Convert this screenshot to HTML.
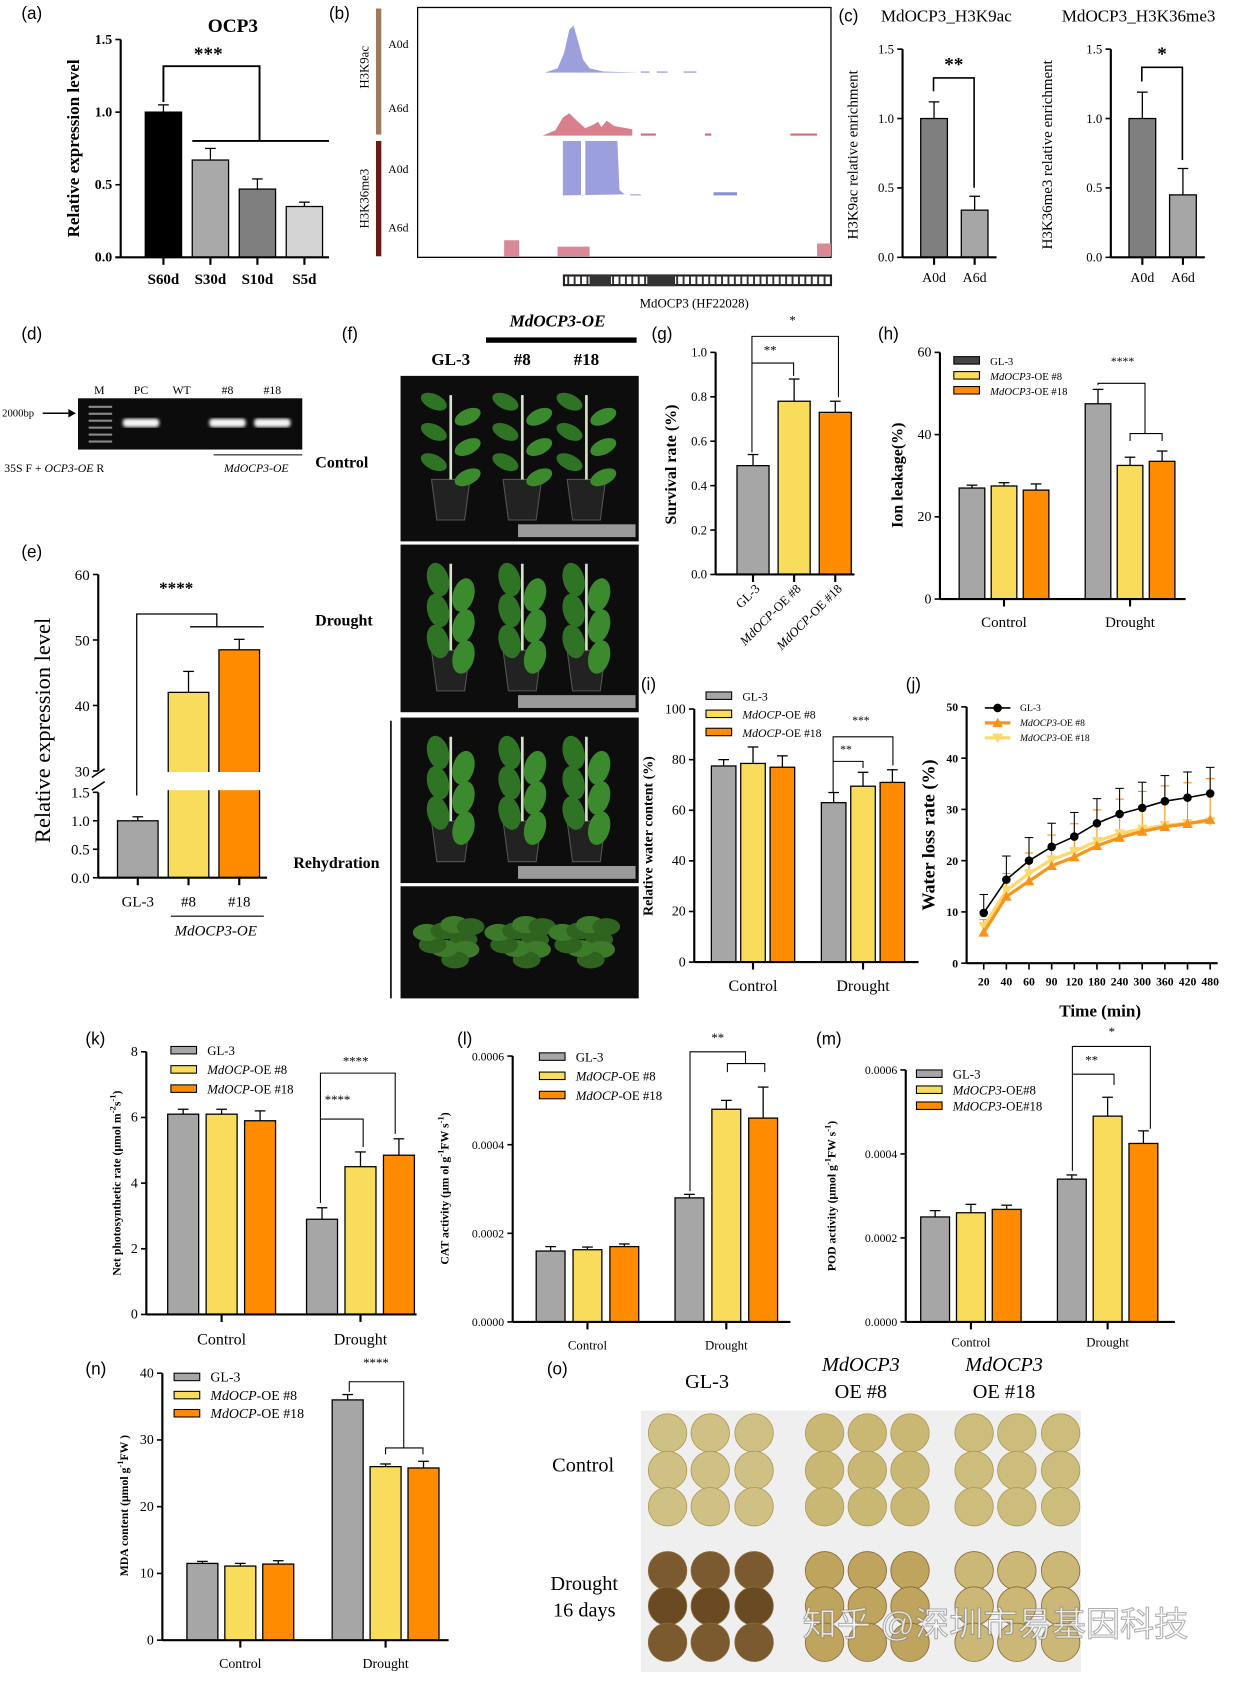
<!DOCTYPE html>
<html><head><meta charset="utf-8">
<style>
html,body{margin:0;padding:0;background:#fff;}
svg{display:block;}
</style></head>
<body>
<svg id="fig" xmlns="http://www.w3.org/2000/svg" width="1239" height="1685" viewBox="0 0 1160 1578" preserveAspectRatio="none">
<defs>
<filter id="blur1"><feGaussianBlur stdDeviation="1.5"/></filter>
</defs>
</svg>
<script>
// ---------- data ----------
const a_cats=['S60d','S30d','S10d','S5d'];
const a_vals=[1.0,0.67,0.47,0.35];
const a_errs=[0.05,0.08,0.07,0.03];
const a_ticks=[0,0.5,1.0,1.5];
const a_tickLabels=['0.0','0.5','1.0','1.5'];

const c1_cats=['A0d','A6d'];
const c1_vals=[1.0,0.34];
const c1_errs=[0.12,0.1];
const c2_vals=[1.0,0.45];
const c2_errs=[0.19,0.19];
const c_ticks=[0,0.5,1.0,1.5];
const c_tickLabels=['0.0','0.5','1.0','1.5'];

const e_cats=['GL-3','#8','#18'];
const e_vals=[1.0,42,48.5];
const e_errs=[0.07,3.2,1.6];
const e_upperTicks=[30,40,50,60];
const e_lowerTicks=[0,0.5,1.0,1.5];
const e_lowerLabels=['0.0','0.5','1.0','1.5'];

const g_cats=['GL-3','MdOCP-OE #8','MdOCP-OE #18'];
const g_vals=[0.49,0.78,0.73];
const g_errs=[0.05,0.1,0.05];
const g_ticks=[0,0.2,0.4,0.6,0.8,1.0];
const g_tickLabels=['0.0','0.2','0.4','0.6','0.8','1.0'];

const groups=['Control','Drought'];
const h_gl3=[27,47.5]; const h_oe8=[27.5,32.5]; const h_oe18=[26.5,33.5];
const h_err_gl3=[0.7,3.5]; const h_err_oe8=[0.8,2]; const h_err_oe18=[1.5,2.5];
const h_ticks=[0,20,40,60];

const i_gl3=[77.5,63]; const i_oe8=[78.5,69.5]; const i_oe18=[77,71];
const i_err_gl3=[2.5,4]; const i_err_oe8=[6.5,5.5]; const i_err_oe18=[4.5,5];
const i_ticks=[0,20,40,60,80,100];

const j_times=['20','40','60','90','120','180','240','300','360','420','480'];
const j_gl3=[9.8,16.3,20,22.7,24.7,27.3,29.1,30.3,31.6,32.3,33.1];
const j_oe8=[6.0,13,16,19,20.7,22.9,24.5,25.7,26.6,27.2,28.0];
const j_oe18=[7.2,14.2,17.5,20.2,21.8,23.8,25.3,26.2,26.9,27.3,27.6];
const j_err_gl3=[3.6,4.6,4.5,4.6,4.7,4.8,5.0,5.0,5.0,5.0,5.1];
const j_err_oe8=[2.5,4.5,5.5,6,6.5,7,7.5,7.8,8,8,8];
const j_ticks=[0,10,20,30,40,50];

const k_gl3=[6.1,2.9]; const k_oe8=[6.1,4.5]; const k_oe18=[5.9,4.85];
const k_err_gl3=[0.15,0.35]; const k_err_oe8=[0.15,0.45]; const k_err_oe18=[0.3,0.5];
const k_ticks=[0,2,4,6,8];

const l_gl3=[0.00016,0.00028]; const l_oe8=[0.000163,0.00048]; const l_oe18=[0.00017,0.00046];
const l_err_gl3=[0.00001,0.000008]; const l_err_oe8=[0.000006,0.00002]; const l_err_oe18=[0.000006,0.00007];
const lm_ticks=[0,0.0002,0.0004,0.0006];
const lm_tickLabels=['0.0000','0.0002','0.0004','0.0006'];

const m_gl3=[0.00025,0.00034]; const m_oe8=[0.00026,0.00049]; const m_oe18=[0.000268,0.000425];
const m_err_gl3=[0.000015,0.00001]; const m_err_oe8=[0.00002,0.000045]; const m_err_oe18=[0.00001,0.00003];

const n_gl3=[11.5,36]; const n_oe8=[11.1,26]; const n_oe18=[11.4,25.8];
const n_err_gl3=[0.3,0.8]; const n_err_oe8=[0.4,0.4]; const n_err_oe18=[0.5,1.0];
const n_ticks=[0,10,20,30,40];

// ---------- helpers ----------
const NS='http://www.w3.org/2000/svg';
const svg=document.getElementById('fig');
const GRAY='#a6a6a6', YEL='#f9dc5c', ORG='#ff8c00';
const SERIF='"Liberation Serif", serif';
function mk(tag,attrs,name,parent){
  const n=document.createElementNS(NS,tag);
  for(const k in attrs) n.setAttribute(k,attrs[k]);
  
  
  (parent||svg).appendChild(n);
  return n;
}
function tx(x,y,s,name,o){
  o=o||{};
  const at={x:x,y:y,'font-family':o.ff||SERIF,'font-size':o.fs||12,'text-anchor':o.a||'middle','font-weight':o.fw||'normal','font-style':o.fi||'normal',fill:o.c||'#000'};
  if(o.rot) at.transform='rotate('+o.rot+' '+x+' '+y+')';
  const t=mk('text',at,name);
  t.innerHTML=s;
  return t;
}
function ln(x1,y1,x2,y2,name,w,c){return mk('line',{x1:x1,y1:y1,x2:x2,y2:y2,stroke:c||'#000','stroke-width':w||1.5},name);}
function pl(pts,name,w){return mk('polyline',{points:pts.map(p=>p.join(',')).join(' '),fill:'none',stroke:'#000','stroke-width':w||1.2},name);}
function yScale(yb,yt,vmax){return v=>yb-v/vmax*(yb-yt);}
function yAxis(x,ys,ticks,labels,name,fs,fw){
  ln(x,ys(0),x,ys(ticks[ticks.length-1]),name+'-y-axis',2);
  ticks.forEach((v,i)=>{const y=ys(v);ln(x-5,y,x,y,name+'-y-tick',1.5);
    tx(x-8,y+4,labels?labels[i]:String(v),name+'-y-tick-label',{a:'end',fs:fs||12,fw:fw||'normal'});});
}
function bar(x,w,ys,v,err,fill,name){
  const y=ys(v), yb=ys(0), ye=ys(v+err);
  ln(x+w/2,y,x+w/2,ye,name+'-error',1.2);
  ln(x+w/2-5,ye,x+w/2+5,ye,name+'-error-cap',1.2);
  mk('rect',{x:x,y:y,width:w,height:yb-y,fill:fill,stroke:'#000','stroke-width':1.2},name);
  return y;
}
function legend(x,y,dy,labels,colors,name,fs){
  labels.forEach((l,i)=>{
    mk('rect',{x:x,y:y+i*dy-6,width:24,height:7,fill:colors[i],stroke:'#000','stroke-width':1},name+'-swatch');
    tx(x+34,y+i*dy+2,l,name+'-label',{a:'start',fs:fs||12});
  });
}
function grouped(name,ys,x0,bw,bstep,gstep,series,errs,colors,axisX,axisEnd,labY,labFs){
  const tops=[];
  series.forEach((s,si)=>{s.forEach((v,gi)=>{
    const x=x0+gi*gstep+si*bstep;
    tops.push([x+bw/2,bar(x,bw,ys,v,errs[si][gi],colors[si],name+'-bar-'+groups[gi].toLowerCase()+'-'+si)]);
  });});
  ln(axisX,ys(0),axisEnd,ys(0),name+'-x-axis',2);
  groups.forEach((g,gi)=>{const cx=x0+gi*gstep+bstep+bw/2;
    ln(cx,ys(0),cx,ys(0)+7,name+'-x-tick',2);
    tx(cx,labY,g,name+'-x-label',{fs:labFs||15});});
  return tops;
}
function panelLabel(x,y,s){tx(x,y,s,'panel-label-'+s.replace(/[()]/g,''),{ff:'"Liberation Sans", sans-serif',fs:16,a:'start'});}

// ---------- (a) ----------
panelLabel(20,18,'(a)');
tx(218,30,'OCP3','a-title',{fs:18,fw:'bold'});
(function(){
  const ys=yScale(241,37,1.5);
  yAxis(113,ys,a_ticks,a_tickLabels,'a',13,'bold');
  tx(74,139,'Relative expression level','a-y-title',{fs:16,fw:'bold',rot:-90});
  const cols=['#000','#a9a9aa','#7f7f7f','#d4d4d4'];
  const tops=[];
  a_cats.forEach((c,i)=>{const x=136+i*44;
    tops.push(bar(x,34,ys,a_vals[i],a_errs[i],cols[i],'a-bar-'+c));
    ln(x+17,241,x+17,248,'a-x-tick',2);
    tx(x+17,266,c,'a-x-label',{fs:14,fw:'bold'});});
  ln(108,241,308,241,'a-x-axis',2);
  pl([[153,ys(1.07)],[153,62],[243,62],[243,132]],'a-bracket',1.8);
  ln(180,132,308,132,'a-bracket-base',1.8);
  tx(195,56,'***','a-significance',{fs:18,fw:'bold'});
})();

// ---------- (b) ----------
panelLabel(308,18,'(b)');
mk('rect',{x:391,y:7,width:387,height:234,fill:'none',stroke:'#000','stroke-width':1.2},'b-track-frame');
mk('rect',{x:352,y:8,width:5,height:118,fill:'#a0785a'},'b-h3k9ac-bar');
mk('rect',{x:352,y:132,width:5,height:108,fill:'#6b1a1a'},'b-h3k36me3-bar');
tx(345,63,'H3K9ac','b-h3k9ac-label',{fs:12,rot:-90});
tx(345,186,'H3K36me3','b-h3k36me3-label',{fs:12,rot:-90});
[['A0d',45],['A6d',105],['A0d',162],['A6d',217]].forEach(p=>tx(373,p[1],p[0],'b-sample-label',{fs:11}));
mk('path',{d:'M510,68 L522,64 L528,50 L533,28 L537,24 L541,38 L546,56 L552,64 L565,67 L600,68 L510,68 Z',fill:'#8a8fd6',opacity:0.85},'b-track-a0d-h3k9ac');
mk('path',{d:'M600,68 h8 v-1 h-8z M615,68 h10 v-1 h-10z M640,68 h12 v-1 h-12z',fill:'#8a8fd6'},'b-track-a0d-h3k9ac-tail');
mk('path',{d:'M508,127 L520,122 L527,110 L533,106 L540,113 L548,120 L555,117 L560,114 L563,119 L568,113 L575,118 L592,121 L592,127 Z',fill:'#d46a78',opacity:0.85},'b-track-a6d-h3k9ac');
mk('path',{d:'M600,127 h14 v-2 h-14z M660,127 h6 v-2 h-6z M740,127 h25 v-2 h-25z',fill:'#d46a78'},'b-track-a6d-tail');
mk('path',{d:'M522,183 L527,183 L527,132 L544,132 L544,183 L548,183 L548,132 L578,132 L580,178 L585,182 L530,183 Z',fill:'#8a8fd6',opacity:0.85},'b-track-a0d-h3k36me3');
mk('path',{d:'M668,183 h22 v-3 h-22z M590,183 h10 v-1 h-10z',fill:'#8a8fd6'},'b-track-a0d-h3k36me3-tail');
mk('path',{d:'M472,240 v-15 h14 v15 z M522,240 v-9 h30 v9 z M765,240 v-12 h13 v12z',fill:'#d88896'},'b-track-a6d-h3k36me3');
mk('rect',{x:528,y:258,width:250,height:9,fill:'#fff',stroke:'#222','stroke-width':2},'b-gene-model');
for(let x=532;x<776;x+=6) ln(x,259,x,266,'b-gene-exon',1.8,'#333');
mk('rect',{x:552,y:257,width:20,height:11,fill:'#333'},'b-gene-exon-block');
mk('rect',{x:606,y:257,width:26,height:11,fill:'#333'},'b-gene-exon-block');
tx(650,288,'MdOCP3 (HF22028)','b-gene-label',{fs:12});

// ---------- (c) ----------
panelLabel(785,20,'(c)');
tx(886,20,'MdOCP3_H3K9ac','c-title-h3k9ac',{fs:16});
tx(1066,20,'MdOCP3_H3K36me3','c-title-h3k36me3',{fs:16});
(function(){
  const ys=yScale(241,46,1.5);
  [[845,c1_vals,c1_errs,'c1','H3K9ac relative enrichment',803,'**',66],[1040,c2_vals,c2_errs,'c2','H3K36me3 relative enrichment',985,'*',56]].forEach(cfg=>{
    const [ax,vals,errs,nm,title,tx0,star,sy]=cfg;
    yAxis(ax,ys,c_ticks,c_tickLabels,nm,12);
    tx(tx0,145,title,nm+'-y-title',{fs:14,rot:-90});
    const cols=['#7f7f7f','#a6a6a6'];
    c1_cats.forEach((c,i)=>{const x=ax+17+i*38;
      bar(x,25,ys,vals[i],errs[i],cols[i],nm+'-bar-'+c);
      ln(x+12.5,241,x+12.5,248,nm+'-x-tick',2);
      tx(x+12.5,264,c,nm+'-x-label',{fs:13});});
    ln(ax,241,ax+88,241,nm+'-x-axis',2);
    pl([[ax+29,ys(vals[0]+errs[0])-10],[ax+29,sy+7],[ax+67,sy+7],[ax+67,ys(vals[1]+errs[1])-8]],nm+'-bracket',1.5);
    tx(ax+48,sy,star,nm+'-significance',{fs:18,fw:'bold'});
  });
})();

// ---------- (d) ----------
panelLabel(20,318,'(d)');
mk('rect',{x:73,y:373,width:210,height:48,fill:'#0c0c0c'},'d-gel');
[['M',93],['PC',132],['WT',170],['#8',213],['#18',255]].forEach(p=>tx(p[1],369,p[0],'d-lane-label',{fs:11}));
for(let k=0;k<6;k++) mk('rect',{x:83,y:380+k*6.5,width:22,height:2,fill:'#888'},'d-ladder-band');
[132,213,255].forEach(x=>mk('rect',{x:x-17,y:392,width:34,height:8,rx:3,fill:'#f4f4f4',filter:'url(#blur1)'},'d-band'));
tx(2,390,'2000bp','d-size-label',{fs:10,a:'start'});
ln(40,387,64,387,'d-arrow',1.5);
mk('path',{d:'M64,383 L71,387 L64,391 Z',fill:'#000'},'d-arrowhead');
tx(4,442,'35S F + <tspan font-style="italic">OCP3-OE</tspan> R','d-primer-label',{fs:11,a:'start'});
ln(200,426,283,426,'d-group-line',1);
tx(240,442,'MdOCP3-OE','d-group-label',{fs:11,fi:'italic'});

// ---------- (e) ----------
panelLabel(20,522,'(e)');
(function(){
  const up=yScale(722+184,538,60); // upper segment
  const ysU=v=>722-(v-30)/30*184;
  const ysL=yScale(822,742,1.5);
  const ys=v=>v<=1.5?ysL(v):ysU(v);
  ln(92,822,92,742,'e-y-axis-lower',2); ln(92,722,92,538,'e-y-axis-upper',2);
  e_upperTicks.forEach(v=>{ln(87,ysU(v),92,ysU(v),'e-y-tick',1.5);tx(84,ysU(v)+5,String(v),'e-y-tick-label',{a:'end',fs:14});});
  e_lowerTicks.forEach((v,i)=>{ln(87,ysL(v),92,ysL(v),'e-y-tick',1.5);tx(84,ysL(v)+5,e_lowerLabels[i],'e-y-tick-label',{a:'end',fs:14});});
  ln(86,728,98,720,'e-axis-break',1.5); ln(86,740,98,732,'e-axis-break',1.5);
  tx(47,684,'Relative expression level','e-y-title',{fs:21,rot:-90});
  const cols=[GRAY,YEL,ORG];
  e_cats.forEach((c,i)=>{const x=110+i*47.5;
    bar(x,38,ys,e_vals[i],e_errs[i]*(i? 184/30:80/1.5)/ (i?184/30:80/1.5),cols[i],'e-bar-'+c);
    ln(x+19,822,x+19,829,'e-x-tick',2);
    tx(x+19,849,c,'e-x-label',{fs:14});});
  // fix error bars for broken axis
  ln(92,822,250,822,'e-x-axis',2);
  mk('rect',{x:150,y:723,width:100,height:17,fill:'#fff'},'e-break-gap');
  pl([[128,745],[128,575],[203,575],[203,587]],'e-bracket',1.2);
  ln(178,587,247,587,'e-bracket-base',1.2);
  tx(165,556,'****','e-significance',{fs:16,fw:'bold'});
  ln(160,858,247,858,'e-group-line',1);
  tx(202,876,'MdOCP3-OE','e-group-label',{fs:14,fi:'italic'});
})();

// ---------- (f) photos ----------
panelLabel(320,318,'(f)');
tx(522,306,'MdOCP3-OE','f-group-label',{fs:16,fw:'bold',fi:'italic'});
mk('rect',{x:455,y:316,width:141,height:5,fill:'#000'},'f-group-bar');
[['GL-3',422],['#8',489],['#18',549]].forEach(p=>tx(p[1],342,p[0],'f-line-label',{fs:16,fw:'bold'}));
tx(320,438,'Control','f-control-label',{fs:15,fw:'bold'});
tx(322,586,'Drought','f-drought-label',{fs:15,fw:'bold'});
tx(315,813,'Rehydration','f-rehydration-label',{fs:15,fw:'bold'});
ln(366,675,366,935,'f-rehydration-line',1.5);
function plantPhoto(y,h,mode,name){
  mk('rect',{x:375,y:y,width:223,height:h,fill:'#0d0d0d'},name);
  if(mode!=='top') mk('rect',{x:485,y:y+h-16,width:110,height:12,fill:'#9a9a9a'},name+'-ruler');
  [422,489,549].forEach((cx,i)=>{
    if(mode==='top'){
      for(let k=0;k<9;k++){const a=k*0.7,r=12+(k%3)*6;
        mk('ellipse',{cx:cx+Math.cos(a)*r,cy:y+50+Math.sin(a)*r*0.8,rx:13,ry:8,fill:k%2?'#3d7a2a':'#2e6420'},name+'-leaf');}
      return;
    }
    const pb=y+h-20;
    mk('path',{d:`M${cx-18},${pb-38} L${cx+18},${pb-38} L${cx+13},${pb} L${cx-13},${pb} Z`,fill:'#222',stroke:'#555','stroke-width':1},name+'-pot');
    ln(cx,pb-38,cx,y+18,name+'-stem',2.5,'#d8e0c8');
    const droop=mode==='drought'||mode==='rehyd';
    for(let k=0;k<6;k++){const ly=y+25+k*((h-70)/6), side=k%2?1:-1;
      mk('ellipse',{cx:cx+side*(droop?14:16),cy:ly+(droop?8:0),rx:droop?10:13,ry:droop?16:7,fill:k%2?'#3c8a2e':'#2f7424',transform:`rotate(${side*(droop?15:-25)} ${cx+side*14} ${ly})`},name+'-leaf');}
  });
}
plantPhoto(352,155,'control','f-photo-control');
plantPhoto(510,157,'drought','f-photo-drought');
plantPhoto(672,155,'rehyd','f-photo-rehydration');
plantPhoto(830,105,'top','f-photo-rehydration-top');

// ---------- (g) ----------
panelLabel(610,318,'(g)');
(function(){
  const ys=yScale(538,330,1.0);
  yAxis(670,ys,g_ticks,g_tickLabels,'g',12);
  tx(633,435,'Survival rate (%)','g-y-title',{fs:15,fw:'bold',rot:-90});
  const cols=[GRAY,YEL,ORG];
  g_cats.forEach((c,i)=>{const x=690+i*38.5;
    bar(x,30,ys,g_vals[i],g_errs[i],cols[i],'g-bar-'+i);
    ln(x+15,538,x+15,545,'g-x-tick',2);
    tx(x+22,552,c.replace('MdOCP','<tspan font-style="italic">MdOCP</tspan>'),'g-x-label',{fs:12,a:'end',rot:-45});});
  ln(670,538,800,538,'g-x-axis',2);
  pl([[704,ys(0.55)],[704,340],[743,340],[743,352]],'g-bracket-8',1);
  tx(721,332,'**','g-significance-8',{fs:12});
  pl([[704,340],[704,315],[785,315],[785,372]],'g-bracket-18',1);
  tx(742,304,'*','g-significance-18',{fs:12});
})();

// ---------- (h) ----------
panelLabel(822,318,'(h)');
(function(){
  const ys=yScale(561,330,60);
  yAxis(880,ys,h_ticks,null,'h',13);
  tx(845,445,'Ion leakage(%)','h-y-title',{fs:15,fw:'bold',rot:-90});
  grouped('h',ys,898,24,30,118,[h_gl3,h_oe8,h_oe18],[h_err_gl3,h_err_oe8,h_err_oe18],[GRAY,YEL,ORG],880,1110,587,14);
  legend(893,340,14,['GL-3','<tspan font-style="italic">MdOCP3</tspan>-OE #8','<tspan font-style="italic">MdOCP3</tspan>-OE #18'],['#444',YEL,ORG],'h-legend',10);
  tx(1051,342,'****','h-significance',{fs:11});
  pl([[1028,ys(51)-4],[1028,359],[1072,359],[1072,406]],'h-bracket',1);
  pl([[1058,413],[1058,406],[1088,406],[1088,413]],'h-bracket-base',1);
})();

// ---------- (i) ----------
panelLabel(600,646,'(i)');
(function(){
  const ys=yScale(901,664,100);
  yAxis(650,ys,i_ticks,null,'i',13);
  tx(611,783,'Relative water content (%)','i-y-title',{fs:13,fw:'bold',rot:-90});
  grouped('i',ys,666,23,27.5,103,[i_gl3,i_oe8,i_oe18],[i_err_gl3,i_err_oe8,i_err_oe18],[GRAY,YEL,ORG],650,860,928,15);
  legend(661,654,17,['GL-3','<tspan font-style="italic">MdOCP</tspan>-OE #8','<tspan font-style="italic">MdOCP</tspan>-OE #18'],[GRAY,YEL,ORG],'i-legend',11);
  tx(806,678,'***','i-significance-18',{fs:11});
  tx(792,705,'**','i-significance-8',{fs:11});
  pl([[780,ys(67)],[780,690],[836,690],[836,ys(76)-4]],'i-bracket-18',1);
  pl([[780,713],[808,713],[808,ys(75)-4]],'i-bracket-8',1);
})();

// ---------- (j) ----------
panelLabel(848,646,'(j)');
(function(){
  const ys=yScale(902,662,50);
  yAxis(905,ys,j_ticks,null,'j',11,'bold');
  tx(875,782,'Water loss rate (%)','j-y-title',{fs:17,fw:'bold',rot:-90});
  const xs=i=>921+i*21.2;
  ln(905,902,1140,902,'j-x-axis',2);
  j_times.forEach((t,i)=>{ln(xs(i),902,xs(i),908,'j-x-tick',1.5);tx(xs(i),923,t,'j-x-label',{fs:11,fw:'bold'});});
  tx(1030,952,'Time (min)','j-x-title',{fs:16,fw:'bold'});
  // error bars
  j_oe8.forEach((v,i)=>{ln(xs(i),ys(v),xs(i),ys(v+j_err_oe8[i]),'j-error-oe8',1,ORG);ln(xs(i)-4,ys(v+j_err_oe8[i]),xs(i)+4,ys(v+j_err_oe8[i]),'j-error-cap-oe8',1,ORG);});
  j_gl3.forEach((v,i)=>{ln(xs(i),ys(v),xs(i),ys(v+j_err_gl3[i]),'j-error-gl3',1);ln(xs(i)-4,ys(v+j_err_gl3[i]),xs(i)+4,ys(v+j_err_gl3[i]),'j-error-cap-gl3',1);});
  mk('polyline',{points:j_oe18.map((v,i)=>xs(i)+','+ys(v)).join(' '),fill:'none',stroke:'#fcd96a','stroke-width':3},'j-line-oe18');
  j_oe18.forEach((v,i)=>mk('path',{d:`M${xs(i)-5},${ys(v)-4} L${xs(i)+5},${ys(v)-4} L${xs(i)},${ys(v)+5} Z`,fill:'#fcd96a'},'j-point-oe18'));
  mk('polyline',{points:j_oe8.map((v,i)=>xs(i)+','+ys(v)).join(' '),fill:'none',stroke:'#f7941d','stroke-width':3},'j-line-oe8');
  j_oe8.forEach((v,i)=>mk('path',{d:`M${xs(i)-5},${ys(v)+4} L${xs(i)+5},${ys(v)+4} L${xs(i)},${ys(v)-5} Z`,fill:'#f7941d'},'j-point-oe8'));
  mk('polyline',{points:j_gl3.map((v,i)=>xs(i)+','+ys(v)).join(' '),fill:'none',stroke:'#000','stroke-width':1.5},'j-line-gl3');
  j_gl3.forEach((v,i)=>mk('circle',{cx:xs(i),cy:ys(v),r:4,fill:'#000'},'j-point-gl3'));
  // legend
  ln(922,663,946,663,'j-legend-line-gl3',1.5); mk('circle',{cx:934,cy:663,r:4,fill:'#000'},'j-legend-marker-gl3');
  tx(955,666,'GL-3','j-legend-label',{fs:9,a:'start'});
  ln(922,677,946,677,'j-legend-line-oe8',3,'#f7941d'); mk('path',{d:'M929,681 L939,681 L934,672 Z',fill:'#f7941d'},'j-legend-marker-oe8');
  tx(955,680,'<tspan font-style="italic">MdOCP3</tspan>-OE #8','j-legend-label',{fs:9,a:'start'});
  ln(922,691,946,691,'j-legend-line-oe18',3,'#fcd96a'); mk('path',{d:'M929,687 L939,687 L934,696 Z',fill:'#fcd96a'},'j-legend-marker-oe18');
  tx(955,694,'<tspan font-style="italic">MdOCP3</tspan>-OE #18','j-legend-label',{fs:9,a:'start'});
})();

// ---------- (k) ----------
panelLabel(80,978,'(k)');
(function(){
  const ys=yScale(1231,985,8);
  yAxis(137,ys,k_ticks,null,'k',13);
  tx(113,1108,'Net photosynthetic rate (μmol m<tspan baseline-shift="super" font-size="8">-2</tspan>s<tspan baseline-shift="super" font-size="8">-1</tspan>)','k-y-title',{fs:11,fw:'bold',rot:-90});
  grouped('k',ys,157,29,36,130,[k_gl3,k_oe8,k_oe18],[k_err_gl3,k_err_oe8,k_err_oe18],[GRAY,YEL,ORG],137,390,1259,15);
  legend(160,986,18,['GL-3','<tspan font-style="italic">MdOCP</tspan>-OE #8','<tspan font-style="italic">MdOCP</tspan>-OE #18'],[GRAY,YEL,ORG],'k-legend',12);
  tx(333,998,'****','k-significance-18',{fs:12});
  pl([[300,ys(3.4)],[300,1005],[370,1005],[370,ys(5.5)]],'k-bracket-18',1);
  tx(316,1034,'****','k-significance-8',{fs:12});
  pl([[300,1048],[340,1048],[340,ys(5.1)]],'k-bracket-8',1);
})();

// ---------- (l) ----------
panelLabel(428,978,'(l)');
(function(){
  const ys=yScale(1238,989,0.0006);
  yAxis(480,ys,lm_ticks,lm_tickLabels,'l',11);
  tx(420,1113,'CAT activity (μm ol g<tspan baseline-shift="super" font-size="8">-1</tspan>FW s<tspan baseline-shift="super" font-size="8">-1</tspan>)','l-y-title',{fs:11,fw:'bold',rot:-90});
  grouped('l',ys,502,27,34.5,130,[l_gl3,l_oe8,l_oe18],[l_err_gl3,l_err_oe8,l_err_oe18],[GRAY,YEL,ORG],480,740,1264,12);
  legend(505,992,18,['GL-3','<tspan font-style="italic">MdOCP</tspan>-OE #8','<tspan font-style="italic">MdOCP</tspan>-OE #18'],[GRAY,YEL,ORG],'l-legend',12);
  tx(672,976,'**','l-significance',{fs:12});
  pl([[646,ys(0.00029)-2],[646,985],[698,985],[698,996]],'l-bracket',1);
  pl([[681,1004],[681,996],[716,996],[716,1004]],'l-bracket-base',1);
})();

// ---------- (m) ----------
panelLabel(764,978,'(m)');
(function(){
  const ys=yScale(1238,1002,0.0006);
  yAxis(848,ys,lm_ticks,lm_tickLabels,'m',11);
  tx(782,1120,'POD activity (μmol g<tspan baseline-shift="super" font-size="8">-1</tspan>FW s<tspan baseline-shift="super" font-size="8">-1</tspan>)','m-y-title',{fs:11,fw:'bold',rot:-90});
  grouped('m',ys,862,27,33.5,128,[m_gl3,m_oe8,m_oe18],[m_err_gl3,m_err_oe8,m_err_oe18],[GRAY,YEL,ORG],848,1100,1261,12);
  legend(858,1008,15,['GL-3','<tspan font-style="italic">MdOCP3</tspan>-OE#8','<tspan font-style="italic">MdOCP3</tspan>-OE#18'],[GRAY,YEL,ORG],'m-legend',12);
  tx(1041,970,'*','m-significance-18',{fs:12});
  pl([[1004,ys(0.00036)],[1004,980],[1077,980],[1077,ys(0.00046)]],'m-bracket-18',1);
  tx(1022,997,'**','m-significance-8',{fs:12});
  pl([[1004,1006],[1043,1006],[1043,1016]],'m-bracket-8',1);
})();

// ---------- (n) ----------
panelLabel(80,1287,'(n)');
(function(){
  const ys=yScale(1536,1286,40);
  yAxis(152,ys,n_ticks,null,'n',13);
  tx(120,1410,'MDA content (μmol g<tspan baseline-shift="super" font-size="8">-1</tspan>FW )','n-y-title',{fs:11,fw:'bold',rot:-90});
  grouped('n',ys,175,29,35.5,136,[n_gl3,n_oe8,n_oe18],[n_err_gl3,n_err_oe8,n_err_oe18],[GRAY,YEL,ORG],152,420,1562,13);
  legend(163,1292,17,['GL-3','<tspan font-style="italic">MdOCP</tspan>-OE #8','<tspan font-style="italic">MdOCP</tspan>-OE #18'],[GRAY,YEL,ORG],'n-legend',13);
  tx(352,1280,'****','n-significance',{fs:12});
  pl([[327,ys(37.2)],[327,1294],[378,1294],[378,1356]],'n-bracket',1);
  pl([[361,1362],[361,1356],[396,1356],[396,1362]],'n-bracket-base',1);
})();

// ---------- (o) ----------
panelLabel(512,1287,'(o)');
tx(662,1300,'GL-3','o-header-gl3',{fs:19});
tx(806,1284,'MdOCP3','o-header-oe8',{fs:19,fi:'italic'});
tx(806,1309,'OE #8','o-header-oe8-sub',{fs:19});
tx(940,1284,'MdOCP3','o-header-oe18',{fs:19,fi:'italic'});
tx(940,1309,'OE #18','o-header-oe18-sub',{fs:19});
tx(546,1378,'Control','o-control-label',{fs:19});
tx(547,1489,'Drought','o-drought-label',{fs:19});
tx(547,1514,'16 days','o-drought-days-label',{fs:19});
mk('rect',{x:600,y:1321,width:412,height:245,fill:'#efefef'},'o-disc-photo');
(function(){
  const cols=[[625,665,706],[772,812,852],[912,952,993]];
  const ctrl=['#cfc084','#c9b873','#ccbd7c'];
  const dr=['#7a5a2e','#bfa45e','#cbb877'];
  cols.forEach((g,gi)=>{
    [1342,1377,1411].forEach((y,ri)=>g.forEach((x,ci)=>mk('circle',{cx:x,cy:y,r:18,fill:ctrl[gi],stroke:'#b09a58','stroke-width':0.8},'o-disc-control')));
    [1471,1504,1538].forEach((y,ri)=>g.forEach((x,ci)=>mk('circle',{cx:x,cy:y,r:18,fill:gi===0&&ri===1?'#6a4a22':dr[gi],stroke:'#8a6a3a','stroke-width':0.8},'o-disc-drought')));
  });
})();
tx(932,1532,'知乎 @深圳市易基因科技','watermark',{ff:'"Liberation Sans", "Noto Sans CJK SC", sans-serif',fs:32,c:'rgba(255,255,255,0.75)'}).setAttribute('stroke','rgba(120,120,120,0.6)');
</script>
</body></html>
